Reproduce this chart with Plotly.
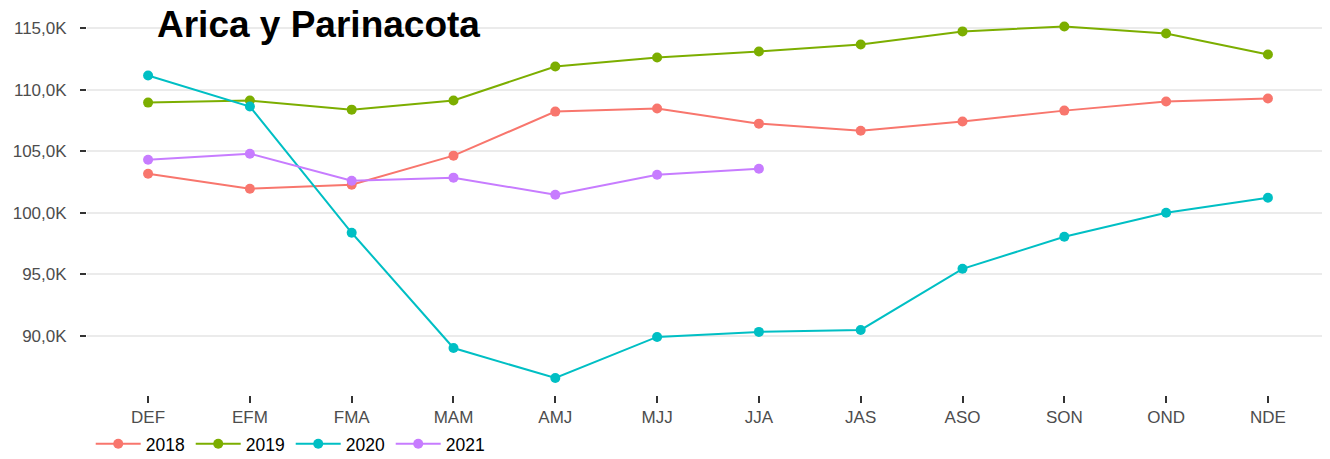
import plotly.graph_objects as go

categories = ["DEF", "EFM", "FMA", "MAM", "AMJ", "MJJ", "JJA", "JAS", "ASO", "SON", "OND", "NDE"]
years = ["2018", "2019", "2020", "2021"]
colors = ["#F8766D", "#7CAE00", "#00BFC4", "#C77CFF"]

# values in thousands
v2018 = [103.19, 101.97, 102.30, 104.66, 108.24, 108.49, 107.26, 106.69, 107.43, 108.32, 109.06, 109.30]
v2019 = [108.97, 109.14, 108.40, 109.14, 111.91, 112.64, 113.13, 113.70, 114.76, 115.16, 114.59, 112.88]
v2020 = [111.17, 108.65, 98.39, 89.02, 86.58, 89.92, 90.33, 90.49, 95.46, 98.06, 100.02, 101.24]
v2021 = [104.33, 104.82, 102.62, 102.87, 101.48, 103.11, 103.60]

tick_vals = [90, 95, 100, 105, 110, 115]
tick_text = ["90,0K", "95,0K", "100,0K", "105,0K", "110,0K", "115,0K"]

series = [v2018, v2019, v2020, v2021]

fig = go.Figure()
for name, vals, col in zip(years, series, colors):
    fig.add_trace(go.Scatter(
        x=categories[:len(vals)], y=vals, name=name, mode="lines+markers",
        line=dict(color=col, width=2), marker=dict(color=col, size=10),
    ))

fig.add_annotation(
    text="<b>Arica y Parinacota</b>", xref="paper", yref="paper",
    x=(155 - 87) / 1242, y=0.963, xanchor="left", yanchor="middle",
    showarrow=False,
    font=dict(size=37, color="black", family="Liberation Sans, Arial, sans-serif"),
)

fig.update_layout(
    width=1322, height=451,
    margin=dict(l=79, r=1, t=2, b=64, autoexpand=False),
    plot_bgcolor="white", paper_bgcolor="white",
    font=dict(family="Liberation Sans, Arial, sans-serif", size=17, color="#4d4d4d"),
    showlegend=True,
    legend=dict(orientation="h", x=0.003, xanchor="left", y=-0.127, yanchor="middle",
                font=dict(size=17.5, color="black"), bgcolor="rgba(0,0,0,0)",
                itemwidth=45, entrywidth=40, entrywidthmode="pixels"),
    xaxis=dict(type="category", categoryorder="array", categoryarray=categories,
               range=[-0.6, 11.6], showgrid=False, zeroline=False, showline=False,
               automargin=False,
               ticks="outside", ticklen=7, tickwidth=1.8, tickcolor="#333333",
               tickfont=dict(size=17, color="#4d4d4d")),
    yaxis=dict(range=[85.2, 116.5], tickvals=tick_vals, ticktext=tick_text,
               automargin=False, ticklabelstandoff=10,
               showgrid=True, gridcolor="#ebebeb", gridwidth=1.5, zeroline=False,
               showline=False, ticks="outside", ticklen=6, tickwidth=1.8,
               tickcolor="#333333", tickfont=dict(size=17, color="#4d4d4d")),
)

fig.write_html("out.html")
